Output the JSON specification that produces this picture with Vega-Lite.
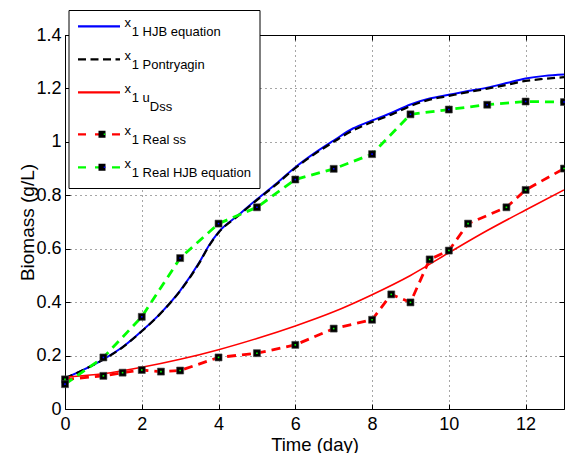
{
  "$schema": "https://vega.github.io/schema/vega-lite/v6.json",
  "width": 499,
  "height": 374,
  "autosize": "none",
  "padding": {"left": 65, "top": 35, "right": 1, "bottom": 44},
  "background": "white",
  "data": {
    "values": [
      {"s": "x1 HJB equation", "t": 0, "v": 0.115},
      {"s": "x1 HJB equation", "t": 0.5, "v": 0.148},
      {"s": "x1 HJB equation", "t": 1, "v": 0.186},
      {"s": "x1 HJB equation", "t": 1.5, "v": 0.232},
      {"s": "x1 HJB equation", "t": 2, "v": 0.292},
      {"s": "x1 HJB equation", "t": 2.5, "v": 0.36},
      {"s": "x1 HJB equation", "t": 3, "v": 0.443},
      {"s": "x1 HJB equation", "t": 3.5, "v": 0.549},
      {"s": "x1 HJB equation", "t": 3.75, "v": 0.612},
      {"s": "x1 HJB equation", "t": 4, "v": 0.662},
      {"s": "x1 HJB equation", "t": 4.5, "v": 0.724},
      {"s": "x1 HJB equation", "t": 5, "v": 0.785},
      {"s": "x1 HJB equation", "t": 5.5, "v": 0.843},
      {"s": "x1 HJB equation", "t": 6, "v": 0.905},
      {"s": "x1 HJB equation", "t": 6.5, "v": 0.958},
      {"s": "x1 HJB equation", "t": 7, "v": 1.005},
      {"s": "x1 HJB equation", "t": 7.5, "v": 1.05},
      {"s": "x1 HJB equation", "t": 8, "v": 1.08},
      {"s": "x1 HJB equation", "t": 8.5, "v": 1.108},
      {"s": "x1 HJB equation", "t": 9, "v": 1.14},
      {"s": "x1 HJB equation", "t": 9.5, "v": 1.162},
      {"s": "x1 HJB equation", "t": 10, "v": 1.176},
      {"s": "x1 HJB equation", "t": 10.5, "v": 1.19},
      {"s": "x1 HJB equation", "t": 11, "v": 1.203},
      {"s": "x1 HJB equation", "t": 11.5, "v": 1.22},
      {"s": "x1 HJB equation", "t": 12, "v": 1.237},
      {"s": "x1 HJB equation", "t": 12.5, "v": 1.247},
      {"s": "x1 HJB equation", "t": 13, "v": 1.252},
      {"s": "x1 Pontryagin", "t": 0, "v": 0.115},
      {"s": "x1 Pontryagin", "t": 0.5, "v": 0.148},
      {"s": "x1 Pontryagin", "t": 1, "v": 0.185},
      {"s": "x1 Pontryagin", "t": 1.5, "v": 0.231},
      {"s": "x1 Pontryagin", "t": 2, "v": 0.291},
      {"s": "x1 Pontryagin", "t": 2.5, "v": 0.359},
      {"s": "x1 Pontryagin", "t": 3, "v": 0.442},
      {"s": "x1 Pontryagin", "t": 3.5, "v": 0.547},
      {"s": "x1 Pontryagin", "t": 3.75, "v": 0.61},
      {"s": "x1 Pontryagin", "t": 4, "v": 0.66},
      {"s": "x1 Pontryagin", "t": 4.5, "v": 0.722},
      {"s": "x1 Pontryagin", "t": 5, "v": 0.782},
      {"s": "x1 Pontryagin", "t": 5.5, "v": 0.84},
      {"s": "x1 Pontryagin", "t": 6, "v": 0.902},
      {"s": "x1 Pontryagin", "t": 6.5, "v": 0.954},
      {"s": "x1 Pontryagin", "t": 7, "v": 1.0},
      {"s": "x1 Pontryagin", "t": 7.5, "v": 1.043},
      {"s": "x1 Pontryagin", "t": 8, "v": 1.074},
      {"s": "x1 Pontryagin", "t": 8.5, "v": 1.102},
      {"s": "x1 Pontryagin", "t": 9, "v": 1.134},
      {"s": "x1 Pontryagin", "t": 9.5, "v": 1.158},
      {"s": "x1 Pontryagin", "t": 10, "v": 1.172},
      {"s": "x1 Pontryagin", "t": 10.5, "v": 1.186},
      {"s": "x1 Pontryagin", "t": 11, "v": 1.199},
      {"s": "x1 Pontryagin", "t": 11.5, "v": 1.213},
      {"s": "x1 Pontryagin", "t": 12, "v": 1.228},
      {"s": "x1 Pontryagin", "t": 12.5, "v": 1.236},
      {"s": "x1 Pontryagin", "t": 13, "v": 1.242},
      {"s": "x1 uDss", "t": 0, "v": 0.12},
      {"s": "x1 uDss", "t": 1, "v": 0.132},
      {"s": "x1 uDss", "t": 2, "v": 0.156},
      {"s": "x1 uDss", "t": 3, "v": 0.186},
      {"s": "x1 uDss", "t": 4, "v": 0.222},
      {"s": "x1 uDss", "t": 5, "v": 0.264},
      {"s": "x1 uDss", "t": 6, "v": 0.311},
      {"s": "x1 uDss", "t": 7, "v": 0.364},
      {"s": "x1 uDss", "t": 8, "v": 0.428},
      {"s": "x1 uDss", "t": 9, "v": 0.5},
      {"s": "x1 uDss", "t": 10, "v": 0.585},
      {"s": "x1 uDss", "t": 11, "v": 0.668},
      {"s": "x1 uDss", "t": 12, "v": 0.745},
      {"s": "x1 uDss", "t": 13, "v": 0.82},
      {"s": "x1 Real ss", "t": 0, "v": 0.111},
      {"s": "x1 Real ss", "t": 1, "v": 0.124},
      {"s": "x1 Real ss", "t": 1.5, "v": 0.136},
      {"s": "x1 Real ss", "t": 2, "v": 0.146},
      {"s": "x1 Real ss", "t": 2.5, "v": 0.14},
      {"s": "x1 Real ss", "t": 3, "v": 0.144},
      {"s": "x1 Real ss", "t": 4, "v": 0.193},
      {"s": "x1 Real ss", "t": 5, "v": 0.209},
      {"s": "x1 Real ss", "t": 6, "v": 0.24},
      {"s": "x1 Real ss", "t": 7, "v": 0.301},
      {"s": "x1 Real ss", "t": 8, "v": 0.334},
      {"s": "x1 Real ss", "t": 8.5, "v": 0.429},
      {"s": "x1 Real ss", "t": 9, "v": 0.399},
      {"s": "x1 Real ss", "t": 9.5, "v": 0.56},
      {"s": "x1 Real ss", "t": 10, "v": 0.593},
      {"s": "x1 Real ss", "t": 10.5, "v": 0.694},
      {"s": "x1 Real ss", "t": 11.5, "v": 0.755},
      {"s": "x1 Real ss", "t": 12, "v": 0.82},
      {"s": "x1 Real ss", "t": 13, "v": 0.9},
      {"s": "x1 Real HJB equation", "t": 0, "v": 0.093},
      {"s": "x1 Real HJB equation", "t": 1, "v": 0.193},
      {"s": "x1 Real HJB equation", "t": 2, "v": 0.345},
      {"s": "x1 Real HJB equation", "t": 3, "v": 0.565},
      {"s": "x1 Real HJB equation", "t": 4, "v": 0.694},
      {"s": "x1 Real HJB equation", "t": 5, "v": 0.755},
      {"s": "x1 Real HJB equation", "t": 6, "v": 0.859},
      {"s": "x1 Real HJB equation", "t": 7, "v": 0.899},
      {"s": "x1 Real HJB equation", "t": 8, "v": 0.954},
      {"s": "x1 Real HJB equation", "t": 9, "v": 1.103},
      {"s": "x1 Real HJB equation", "t": 10, "v": 1.121},
      {"s": "x1 Real HJB equation", "t": 11, "v": 1.139},
      {"s": "x1 Real HJB equation", "t": 12, "v": 1.151},
      {"s": "x1 Real HJB equation", "t": 13, "v": 1.149}
    ]
  },
  "resolve": {"axis": {"x": "independent", "y": "independent"}},
  "layer": [
    {
      "transform": [{"filter": {"field": "s", "equal": "x1 HJB equation"}}],
      "mark": {"type": "line", "interpolate": "monotone", "strokeWidth": 2, "clip": true},
      "encoding": {
        "x": {"field": "t", "type": "quantitative", "scale": {"domain": [0, 13], "nice": false, "zero": false},
          "axis": {"orient": "bottom", "values": [0, 2, 4, 6, 8, 10, 12], "title": "Time (day)", "grid": true,
            "titleY": 41, "titleBaseline": "alphabetic", "titleFontSize": 18.5, "labelPadding": 11}},
        "y": {"field": "v", "type": "quantitative", "scale": {"domain": [0, 1.4], "nice": false},
          "axis": {"orient": "left", "values": [0, 0.2, 0.4, 0.6, 0.8, 1, 1.2, 1.4], "format": "~g", "title": "Biomass (g/L)", "grid": true,
            "titleX": -31.5, "titleBaseline": "alphabetic", "titleFontSize": 19, "labelPadding": 9}},
        "stroke": {"field": "s", "type": "nominal",
          "scale": {"domain": ["x1 HJB equation", "x1 Pontryagin", "x1 uDss", "x1 Real ss", "x1 Real HJB equation"], "range": ["#0000ff", "#000000", "#ff0000", "#ff0000", "#00ff00"]},
          "legend": {"title": null, "orient": "none", "legendX": 3.5, "legendY": -25, "columns": 1, "direction": "vertical", "padding": 8, "rowPadding": 11, "clipHeight": 10,
            "symbolType": "M-1,0.157H1", "symbolSize": 1764, "symbolStrokeWidth": 2.2, "strokeColor": "black", "fillColor": "white", "zindex": 1, "labelOffset": 3,
            "labelExpr": "trim(datum.value) == 'x1 uDss' ? ['x', '\u200b\u00a0\u00a01 u', '\u200b\u00a0\u00a0\u00a0\u00a0\u00a0\u00a0\u00a0Dss'] : ['x', '\u200b\u00a0\u00a01 ' + slice(trim(datum.value), 3)]",
            "encode": {
              "symbols": {"update": {
                "strokeDash": {"signal": "indexof(['x1 Real ss','x1 Real HJB equation'], datum.value) >= 0 ? [8, 9] : datum.value == 'x1 Pontryagin' ? [8, 4.5] : [1, 0]"}
              }}
            }}}
      }
    },
    {
      "transform": [{"filter": {"field": "s", "equal": "x1 Pontryagin"}}],
      "mark": {"type": "line", "interpolate": "monotone", "strokeWidth": 2.2, "strokeDash": [8, 4.5], "clip": true},
      "encoding": {
        "x": {"field": "t", "type": "quantitative", "axis": null},
        "y": {"field": "v", "type": "quantitative", "axis": null},
        "stroke": {"field": "s", "type": "nominal"}
      }
    },
    {
      "transform": [{"filter": {"field": "s", "equal": "x1 uDss"}}],
      "mark": {"type": "line", "interpolate": "monotone", "strokeWidth": 1.6, "clip": true},
      "encoding": {
        "x": {"field": "t", "type": "quantitative", "axis": null},
        "y": {"field": "v", "type": "quantitative", "axis": null},
        "stroke": {"field": "s", "type": "nominal"}
      }
    },
    {
      "transform": [{"filter": {"field": "s", "oneOf": ["x1 Real ss", "x1 Real HJB equation"]}}],
      "mark": {"type": "line", "strokeWidth": 2.8, "strokeDash": [9, 6]},
      "encoding": {
        "x": {"field": "t", "type": "quantitative", "axis": null},
        "y": {"field": "v", "type": "quantitative", "axis": null},
        "stroke": {"field": "s", "type": "nominal"}
      }
    },
    {
      "transform": [{"filter": {"field": "s", "oneOf": ["x1 Real ss", "x1 Real HJB equation"]}}],
      "mark": {"type": "point", "filled": true, "shape": "square", "stroke": "#444444", "strokeWidth": 0.6, "size": 49, "opacity": 1},
      "encoding": {
        "x": {"field": "t", "type": "quantitative",
          "axis": {"orient": "top", "values": [0, 2, 4, 6, 8, 10, 12], "labels": false, "grid": false, "title": null, "domain": false}},
        "y": {"field": "v", "type": "quantitative",
          "axis": {"orient": "right", "values": [0, 0.2, 0.4, 0.6, 0.8, 1, 1.2, 1.4], "labels": false, "grid": false, "title": null, "domain": false}},
        "fill": {"field": "s", "type": "nominal",
          "scale": {"domain": ["x1 HJB equation ", "x1 Pontryagin ", "x1 uDss ", "x1 Real ss", "x1 Real HJB equation"], "range": ["transparent", "transparent", "transparent", "#000000", "#000000"]},
          "legend": {"title": null, "orient": "none", "legendX": 3.5, "legendY": -25, "columns": 1, "direction": "vertical", "padding": 8, "rowPadding": 11, "clipHeight": 10,
            "symbolType": "M-1,-0.057H1V1.943H-1Z", "symbolSize": 49, "symbolStrokeColor": "transparent", "symbolStrokeWidth": 0, "symbolOffset": 19, "labelOpacity": 0, "zindex": 2, "labelOffset": 3,
            "labelExpr": "trim(datum.value) == 'x1 uDss' ? ['x', '\u200b\u00a0\u00a01 u', '\u200b\u00a0\u00a0\u00a0\u00a0\u00a0\u00a0\u00a0Dss'] : ['x', '\u200b\u00a0\u00a01 ' + slice(trim(datum.value), 3)]"}}
      }
    },
    {
      "transform": [{"filter": {"field": "s", "oneOf": ["x1 Real ss", "x1 Real HJB equation"]}}],
      "mark": {"type": "point", "filled": true, "shape": "square", "size": 2.5, "strokeWidth": 0, "opacity": 1},
      "encoding": {
        "x": {"field": "t", "type": "quantitative", "axis": null},
        "y": {"field": "v", "type": "quantitative", "axis": null},
        "color": {"field": "s", "type": "nominal",
          "scale": {"domain": ["x1 HJB equation  ", "x1 Pontryagin  ", "x1 uDss  ", "x1 Real ss", "x1 Real HJB equation"], "range": ["transparent", "transparent", "transparent", "#00ff00", "#0000ff"]},
          "legend": {"title": null, "orient": "none", "legendX": 3.5, "legendY": -25, "columns": 1, "direction": "vertical", "padding": 8, "rowPadding": 11, "clipHeight": 10,
            "symbolType": "M-1,3.18H1V5.18H-1Z", "symbolSize": 2.5, "symbolStrokeColor": "transparent", "symbolStrokeWidth": 0, "symbolOffset": 21.5, "labelOpacity": 0, "zindex": 3, "labelOffset": 3,
            "labelExpr": "trim(datum.value) == 'x1 uDss' ? ['x', '\u200b\u00a0\u00a01 u', '\u200b\u00a0\u00a0\u00a0\u00a0\u00a0\u00a0\u00a0Dss'] : ['x', '\u200b\u00a0\u00a01 ' + slice(trim(datum.value), 3)]"}}
      }
    }
  ],
  "config": {
    "view": {"stroke": "black", "strokeWidth": 1},
    "font": "Liberation Sans",
    "style": {"guide-label": {"lineHeight": 9}},
    "axis": {
      "labelFont": "Liberation Sans", "labelFontSize": 18, "labelColor": "black",
      "titleFont": "Liberation Sans", "titleFontWeight": "normal", "titleColor": "black",
      "tickColor": "black", "tickSize": -5, "tickWidth": 1, "domain": false,
      "gridColor": "#000000", "gridDash": [1, 4], "gridOpacity": 0.7, "gridWidth": 1,
      "labelOverlap": false, "labelFlush": false
    },
    "legend": {
      "labelFont": "Liberation Sans", "labelFontSize": 13, "labelColor": "black", "labelBaseline": "middle", "labelLimit": 300
    }
  }
}
